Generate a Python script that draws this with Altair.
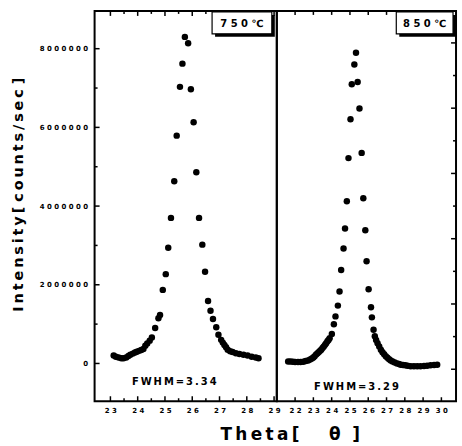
import altair as alt
import pandas as pd

TS = "\u2009"  # thin space used as letter spacing
NB = "\u00a0"  # non-breaking space (not collapsed by SVG)


def spaced(s):
    return TS.join(s)


# ---- 750 C panel (left) ----
x750 = [23.12, 23.20, 23.30, 23.40, 23.48, 23.58, 23.66, 23.73, 23.82, 23.90,
        23.97, 24.05, 24.13, 24.21, 24.28, 24.35, 24.44, 24.52, 24.64, 24.76,
        24.82, 24.92, 25.03, 25.12, 25.22, 25.34, 25.43, 25.55, 25.64, 25.73,
        25.85, 25.95, 26.05, 26.15, 26.25, 26.37, 26.47, 26.58, 26.67, 26.76,
        26.88, 26.96, 27.06, 27.12, 27.18, 27.24, 27.30, 27.39, 27.48, 27.60,
        27.73, 27.88, 28.03, 28.18, 28.33, 28.43]
y750 = [0.20e6, 0.17e6, 0.15e6, 0.13e6, 0.13e6, 0.15e6, 0.19e6, 0.22e6, 0.25e6, 0.28e6,
        0.30e6, 0.32e6, 0.34e6, 0.37e6, 0.45e6, 0.51e6, 0.58e6, 0.66e6, 0.90e6, 1.15e6,
        1.23e6, 1.87e6, 2.27e6, 2.94e6, 3.70e6, 4.63e6, 5.79e6, 7.03e6, 7.62e6, 8.30e6,
        8.14e6, 6.97e6, 6.13e6, 4.86e6, 3.70e6, 3.02e6, 2.33e6, 1.59e6, 1.34e6, 1.13e6,
        0.92e6, 0.73e6, 0.60e6, 0.53e6, 0.47e6, 0.41e6, 0.35e6, 0.31e6, 0.29e6, 0.26e6,
        0.24e6, 0.22e6, 0.20e6, 0.17e6, 0.15e6, 0.13e6]

# ---- 850 C panel (right) ----
x850 = [21.62, 21.75, 21.88, 22.00, 22.16, 22.30, 22.45, 22.58, 22.71, 22.82,
        22.92, 23.00, 23.07, 23.15, 23.23, 23.30, 23.37, 23.43, 23.50, 23.57,
        23.64, 23.70, 23.77, 23.83, 23.89, 24.01, 24.12, 24.21, 24.34, 24.43,
        24.52, 24.65, 24.73, 24.83, 24.92, 25.03, 25.10, 25.24, 25.33, 25.42,
        25.52, 25.64, 25.73, 25.84, 25.91, 26.02, 26.15, 26.20, 26.29, 26.36,
        26.43, 26.51, 26.60, 26.69, 26.78, 26.87, 26.96, 27.05, 27.14, 27.23,
        27.33, 27.45, 27.57, 27.68, 27.78, 27.90, 28.02, 28.15, 28.32, 28.50,
        28.68, 28.86, 29.05, 29.22, 29.41, 29.60, 29.77]
y850 = [0.24e6, 0.24e6, 0.23e6, 0.22e6, 0.22e6, 0.22e6, 0.23e6, 0.25e6, 0.27e6, 0.30e6,
        0.33e6, 0.36e6, 0.40e6, 0.45e6, 0.49e6, 0.53e6, 0.57e6, 0.60e6, 0.65e6, 0.70e6,
        0.75e6, 0.80e6, 0.86e6, 0.90e6, 0.95e6, 1.08e6, 1.38e6, 1.62e6, 1.95e6, 2.38e6,
        3.04e6, 3.70e6, 4.31e6, 5.15e6, 6.47e6, 7.66e6, 8.73e6, 9.34e6, 9.70e6, 8.80e6,
        7.99e6, 6.63e6, 5.24e6, 4.26e6, 3.31e6, 2.45e6, 1.90e6, 1.59e6, 1.21e6, 1.01e6,
        0.90e6, 0.80e6, 0.70e6, 0.60e6, 0.52e6, 0.46e6, 0.40e6, 0.35e6, 0.31e6, 0.27e6,
        0.24e6, 0.21e6, 0.18e6, 0.16e6, 0.14e6, 0.13e6, 0.12e6, 0.11e6, 0.09e6, 0.09e6,
        0.09e6, 0.09e6, 0.10e6, 0.11e6, 0.12e6, 0.13e6, 0.14e6]

# ---- tick positions ----
left_x_major = [23, 24, 25, 26, 27, 28, 29]
left_x_minor = [23.5, 24.5, 25.5, 26.5, 27.5, 28.5]
left_y_major = [0, 2000000, 4000000, 6000000, 8000000]
left_y_minor = [1000000, 3000000, 5000000, 7000000]
right_x_major = [22, 23, 24, 25, 26, 27, 28, 29, 30]
right_y_major = [0, 2000000, 4000000, 6000000, 8000000, 10000000]
right_y_minor = [1000000, 3000000, 5000000, 7000000, 9000000]

labels_750 = ["7" + NB + "5" + NB + "0" + NB + "\u2103"]
labels_850 = ["8" + NB + "5" + NB + "0" + NB + "\u2103"]
fwhm_750 = [spaced("FWHM=3.34")]
fwhm_850 = [spaced("FWHM=3.29")]
x_title = spaced("Theta[") + NB * 5 + "\u03b8" + NB * 2 + "]"
y_title = spaced("Intensity[") + NB + spaced("counts/sec") + NB + "]"

FONT = "DejaVu Sans"
LW, RW, H = 183, 180, 392

sx_l = alt.Scale(domain=[22.42, 29.1], nice=False, zero=False)
sy_l = alt.Scale(domain=[-960000, 8960000], nice=False, zero=False)
sx_r = alt.Scale(domain=[21.0, 30.8], nice=False, zero=False)
sy_r = alt.Scale(domain=[-980000, 10980000], nice=False, zero=False)

SPACE_EXPR = "replace(datum.label, regexp('([0-9])(?=[0-9])', 'g'), '$1\u00a0')"

ax_xl = alt.Axis(values=left_x_major, ticks=False, domain=False, grid=False,
                 labelExpr=SPACE_EXPR, labelFont=FONT, labelFontSize=7,
                 labelFontWeight="bold", labelColor="black", labelPadding=5,
                 labelFlush=False, labelOverlap=False,
                 title=x_title, titleFont=FONT, titleFontSize=17,
                 titleFontWeight="bold", titleColor="black",
                 titleX=196, titleY=38, titleBaseline="alphabetic",
                 titleAlign="center")
ax_yl = alt.Axis(values=left_y_major, format="d", ticks=False, domain=False,
                 grid=False, labelExpr=SPACE_EXPR, labelFont=FONT,
                 labelFontSize=7, labelFontWeight="bold", labelColor="black",
                 labelPadding=7, labelFlush=False, labelOverlap=False,
                 title=y_title, titleFont=FONT, titleFontSize=14.5,
                 titleFontWeight="bold", titleColor="black",
                 titleX=-72, titleY=184, titleAngle=-90,
                 titleBaseline="alphabetic", titleAlign="center")
ax_xr = alt.Axis(values=right_x_major, ticks=False, domain=False, grid=False,
                 labelExpr=SPACE_EXPR, labelFont=FONT, labelFontSize=7,
                 labelFontWeight="bold", labelColor="black", labelPadding=5,
                 labelFlush=False, labelOverlap=False, title=None)
ax_yr = alt.Axis(values=right_y_major, orient="right", ticks=False, domain=False,
                 grid=False, labels=False, title=None)

df750 = pd.DataFrame({"x": x750, "y": y750})
df850 = pd.DataFrame({"x": x850, "y": y850})


def xticks(values, scale, axis, length, top=False):
    df = pd.DataFrame({"x": values})
    if top:
        y0, y1 = 0, length
    else:
        y0, y1 = H, H - length
    return alt.Chart(df).mark_rule(color="black", strokeWidth=1.5).encode(
        x=alt.X("x:Q", scale=scale, axis=axis),
        y=alt.value(y0), y2=alt.value(y1))


def yticks(values, scale, axis, length, width, right=False):
    df = pd.DataFrame({"y": values})
    if right:
        x0, x1 = width, width - length
    else:
        x0, x1 = 0, length
    return alt.Chart(df).mark_rule(color="black", strokeWidth=1.5).encode(
        y=alt.Y("y:Q", scale=scale, axis=axis),
        x=alt.value(x0), x2=alt.value(x1))


def box(label, x0, x1, y0, y1):
    d = pd.DataFrame({"t": label})
    shadow = alt.Chart(d).mark_rect(color="black").encode(
        x=alt.value(x0 + 3), x2=alt.value(x1 + 3),
        y=alt.value(y0 + 3), y2=alt.value(y1 + 3))
    face = alt.Chart(d).mark_rect(fill="white", stroke="black", strokeWidth=1.2).encode(
        x=alt.value(x0), x2=alt.value(x1), y=alt.value(y0), y2=alt.value(y1))
    txt = alt.Chart(d).mark_text(font=FONT, fontSize=10, fontWeight="bold",
                                 color="black", align="center", baseline="middle").encode(
        x=alt.value((x0 + x1) / 2), y=alt.value((y0 + y1) / 2 + 1), text="t:N")
    return [shadow, face, txt]


def note(label, xc, yc):
    d = pd.DataFrame({"t": label})
    return alt.Chart(d).mark_text(font=FONT, fontSize=10, fontWeight="bold",
                                  color="black", align="center", baseline="middle").encode(
        x=alt.value(xc), y=alt.value(yc), text="t:N")


pts_left = alt.Chart(df750).mark_circle(size=42, color="black", opacity=1).encode(
    x=alt.X("x:Q", scale=sx_l, axis=ax_xl),
    y=alt.Y("y:Q", scale=sy_l, axis=ax_yl),
)

left = alt.layer(
    pts_left,
    xticks(left_x_major, sx_l, ax_xl, 5), xticks(left_x_minor, sx_l, ax_xl, 3),
    xticks(left_x_major, sx_l, ax_xl, 5, top=True),
    xticks(left_x_minor, sx_l, ax_xl, 3, top=True),
    yticks(left_y_major, sy_l, ax_yl, 5, LW), yticks(left_y_minor, sy_l, ax_yl, 3, LW),
    *box(labels_750, 118, 178, 1, 23),
    note(fwhm_750, 80, 373),
).properties(width=LW, height=H)

pts_right = alt.Chart(df850).mark_circle(size=42, color="black", opacity=1).encode(
    x=alt.X("x:Q", scale=sx_r, axis=ax_xr),
    y=alt.Y("y:Q", scale=sy_r, axis=ax_yr),
)

right = alt.layer(
    pts_right,
    xticks(right_x_major, sx_r, ax_xr, 4), xticks(right_x_major, sx_r, ax_xr, 4, top=True),
    yticks(right_y_major, sy_r, ax_yr, 5, RW, right=True),
    yticks(right_y_minor, sy_r, ax_yr, 3, RW, right=True),
    *box(labels_850, 120, 177, 1, 23),
    note(fwhm_850, 80, 378),
).properties(width=RW, height=H)

chart = alt.hconcat(left, right, spacing=0, bounds="flush").properties(
    padding={"left": 10, "top": 8, "right": 4, "bottom": 4},
    background="white",
).configure_view(stroke="black", strokeWidth=2)

chart.save("out.html", embed_options={"renderer": "svg", "actions": False})
